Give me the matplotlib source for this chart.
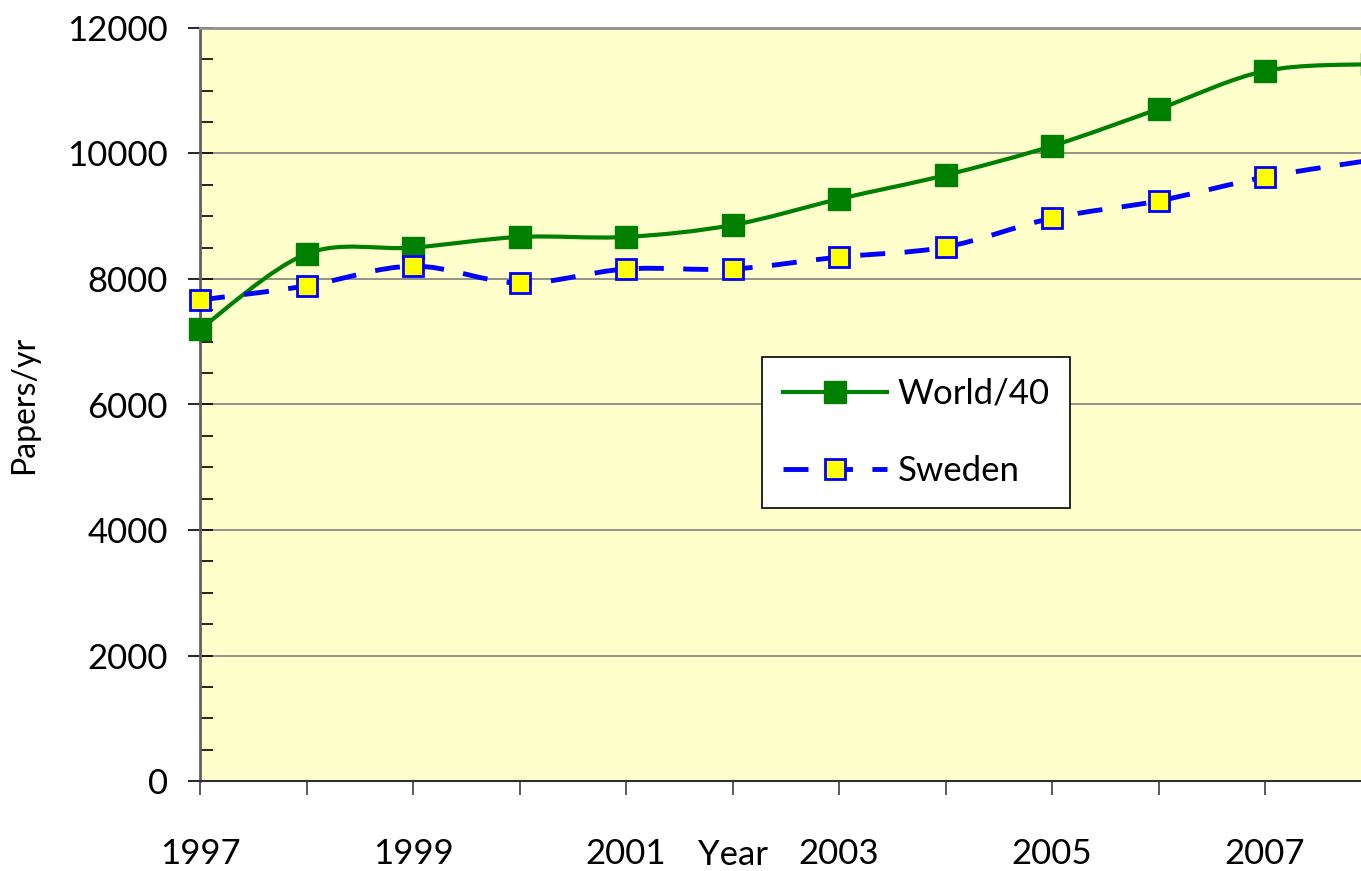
import numpy as np
import matplotlib
matplotlib.use("Agg")
import matplotlib.pyplot as plt
from matplotlib.path import Path
from matplotlib.patches import PathPatch
from matplotlib.lines import Line2D
from matplotlib.ticker import MultipleLocator

plt.rcParams["font.family"] = ["Lato", "DejaVu Sans"]
plt.rcParams["lines.scale_dashes"] = False

years = [1997, 1998, 1999, 2000, 2001, 2002, 2003, 2004, 2005, 2006, 2007, 2008]
world_40 = [7200, 8400, 8500, 8670, 8670, 8860, 9275, 9655, 10120, 10710, 11315, 11425]
sweden = [7665, 7890, 8205, 7935, 8160, 8160, 8350, 8510, 8970, 9245, 9625, 9895]
year_labels = ["1997", "", "1999", "", "2001", "", "2003", "", "2005", "", "2007", ""]

GREEN = "#008000"
BLUE = "#0000FF"
YELLOW = "#FFFF00"
FS = 25


def smooth_path(x, y):
    """Catmull-Rom style cubic Bezier through the points (spreadsheet 'smoothed line')."""
    pts = np.column_stack([x, y]).astype(float)
    ext = np.vstack([pts[0], pts, pts[-1]])
    verts = [pts[0]]
    codes = [Path.MOVETO]
    for i in range(1, len(ext) - 2):
        p0, p1, p2, p3 = ext[i - 1], ext[i], ext[i + 1], ext[i + 2]
        verts += [p1 + (p2 - p0) / 6, p2 - (p3 - p1) / 6, p2]
        codes += [Path.CURVE4] * 3
    return Path(verts, codes)


fig = plt.figure(figsize=(13.61, 8.71), dpi=100)
ax = fig.add_axes([200 / 1361, 1 - 781 / 871, 1171.5 / 1361, 753 / 871])
ax.set_facecolor("#FFFFCC")

ax.set_xlim(1997, 2008)
ax.set_ylim(0, 12000)
ax.yaxis.set_major_locator(MultipleLocator(2000))
ax.yaxis.set_minor_locator(MultipleLocator(500))
ax.set_xticks(years)
ax.set_xticklabels(year_labels)
ax.grid(axis="y", which="major", color="#808080", lw=1.2)
ax.set_axisbelow(True)

ax.tick_params(axis="y", which="major", direction="inout", length=18, width=1.2,
               labelsize=FS, pad=14)
ax.tick_params(axis="y", which="minor", direction="in", length=9, width=1.2)
ax.tick_params(axis="x", which="major", direction="out", length=10, width=1.2,
               labelsize=FS, pad=31, color="#404040")

ax.spines["top"].set_color("#909090")
ax.spines["top"].set_linewidth(2)
ax.spines["left"].set_color("#606060")
ax.spines["left"].set_linewidth(2)
ax.spines["bottom"].set_color("#303030")
ax.spines["bottom"].set_linewidth(1.5)
ax.spines["right"].set_visible(False)

# smoothed series lines
ax.add_patch(PathPatch(smooth_path(years, world_40), fill=False, edgecolor=GREEN,
                       lw=3, capstyle="round", joinstyle="round", zorder=3))
ax.add_patch(PathPatch(smooth_path(years, sweden), fill=False, edgecolor=BLUE,
                       lw=3.5, linestyle=(0, (18, 14)), capstyle="butt", zorder=3))

# markers
ax.plot(years, world_40, ls="none", marker="s", ms=16, mfc=GREEN, mec=GREEN,
        mew=1, zorder=4, clip_on=False)
ax.plot(years, sweden, ls="none", marker="s", ms=15, mfc=YELLOW, mec=BLUE,
        mew=2, zorder=4, clip_on=False)

ax.set_ylabel("Papers/yr", fontsize=23, labelpad=20)
ax.set_xlabel("Year", fontsize=FS)
ax.xaxis.set_label_coords(5 / 11, -0.077)

handles = [
    Line2D([], [], color=GREEN, lw=3, marker="s", ms=16, mfc=GREEN, mec=GREEN),
    Line2D([], [], color=BLUE, lw=3.5, ls=(0, (18, 14)), marker="s", ms=15,
           mfc=YELLOW, mec=BLUE, mew=2),
]
leg = fig.legend(handles, ["World/40", "Sweden"], loc="upper left",
                 bbox_to_anchor=(762 / 1361, 1 - 357 / 871), borderaxespad=0,
                 fontsize=FS, handlelength=3.0, numpoints=1, labelspacing=1.3,
                 borderpad=0.6, handletextpad=0.3, fancybox=False, framealpha=1)
leg.get_frame().set_edgecolor("black")
leg.get_frame().set_linewidth(1.2)

fig.savefig("out.png", dpi=100)
